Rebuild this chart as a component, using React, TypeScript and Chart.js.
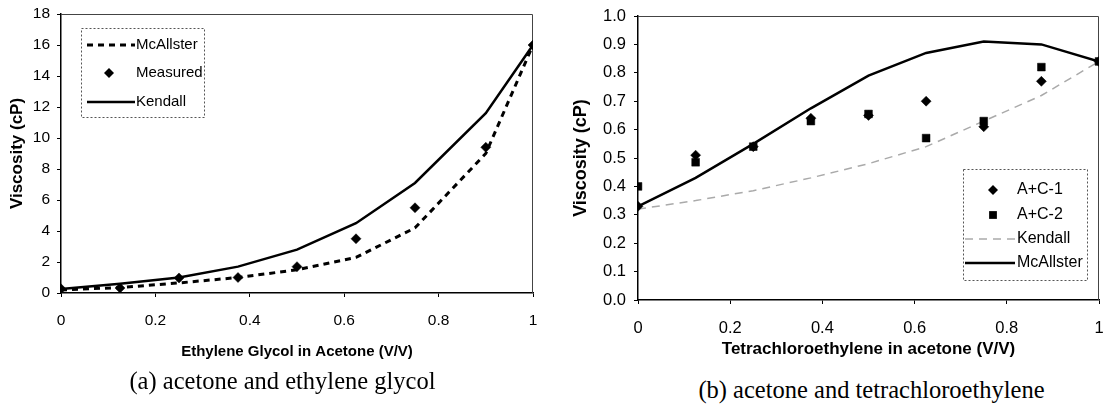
import React, { useEffect, useRef } from "react";
import { Chart, registerables } from "chart.js";

Chart.register(...registerables);

const FONT = "'Liberation Sans', Arial, sans-serif";

// ---- Chart (a): acetone and ethylene glycol ----
const xA = [0, 0.125, 0.25, 0.375, 0.5, 0.625, 0.75, 0.9, 1];
const mcallisterA = [0.2, 0.35, 0.65, 1.0, 1.5, 2.3, 4.2, 9.0, 16.0];
const measuredA = [0.27, 0.32, 0.97, 1.0, 1.7, 3.5, 5.5, 9.4, 16.0];
const kendallA = [0.25, 0.6, 1.0, 1.7, 2.8, 4.5, 7.1, 11.6, 16.0];
const xTickLabelsA = ["0", "0.2", "0.4", "0.6", "0.8", "1"];
const yTickLabelsA = ["0", "2", "4", "6", "8", "10", "12", "14", "16", "18"];

// ---- Chart (b): acetone and tetrachloroethylene ----
const xB = [0, 0.125, 0.25, 0.375, 0.5, 0.625, 0.75, 0.875, 1];
const ac1B = [0.33, 0.51, 0.54, 0.64, 0.65, 0.7, 0.61, 0.77, 0.84];
const ac2B = [0.4, 0.485, 0.54, 0.63, 0.655, 0.57, 0.63, 0.82, 0.84];
const kendallB = [0.32, 0.35, 0.385, 0.43, 0.48, 0.54, 0.63, 0.72, 0.84];
const mcallisterB = [0.33, 0.43, 0.55, 0.675, 0.79, 0.87, 0.91, 0.9, 0.84];
const xTickLabelsB = ["0", "0.2", "0.4", "0.6", "0.8", "1"];
const yTickLabelsB = ["0.0", "0.1", "0.2", "0.3", "0.4", "0.5", "0.6", "0.7", "0.8", "0.9", "1.0"];

const pts = (xs: number[], ys: number[]) => xs.map((x, i) => ({ x, y: ys[i] }));

type LegendCfg = {
  dx: number; dy: number; w: number; h: number;
  rows: number[]; sx0: number; sx1: number; mx: number; tx: number; fontSize: number;
  fromRight?: boolean;
};

function drawMarker(ctx: CanvasRenderingContext2D, style: string, x: number, y: number, r: number) {
  ctx.beginPath();
  if (style === "rectRot") {
    ctx.moveTo(x - r, y);
    ctx.lineTo(x, y - r);
    ctx.lineTo(x + r, y);
    ctx.lineTo(x, y + r);
    ctx.closePath();
  } else {
    const s = r * Math.SQRT1_2;
    ctx.rect(x - s, y - s, 2 * s, 2 * s);
  }
  ctx.fillStyle = "#000";
  ctx.fill();
}

function makeLegendPlugin(id: string, cfg: LegendCfg) {
  return {
    id,
    afterDraw(chart: any) {
      const { ctx, chartArea } = chart;
      const bx = cfg.fromRight ? chartArea.right - cfg.dx - cfg.w : chartArea.left + cfg.dx;
      const by = chartArea.top + cfg.dy;
      ctx.save();
      ctx.fillStyle = "#fff";
      ctx.fillRect(bx, by, cfg.w, cfg.h);
      ctx.setLineDash([2, 2]);
      ctx.strokeStyle = "#555";
      ctx.lineWidth = 1;
      ctx.strokeRect(bx + 0.5, by + 0.5, cfg.w, cfg.h);
      const order: number[] = chart.options.plugins[id + "Order"] || [];
      order.forEach((di: number, row: number) => {
        const ds = chart.data.datasets[di];
        const y = by + cfg.rows[row];
        if (ds.showLine === false) {
          drawMarker(ctx, ds.pointStyle, bx + cfg.mx, y, ds.pointRadius);
        } else {
          ctx.beginPath();
          ctx.setLineDash(ds.borderDash || []);
          ctx.strokeStyle = ds.borderColor;
          ctx.lineWidth = ds.borderWidth;
          ctx.moveTo(bx + cfg.sx0, y);
          ctx.lineTo(bx + cfg.sx1, y);
          ctx.stroke();
        }
        ctx.setLineDash([]);
        ctx.fillStyle = "#000";
        ctx.font = `${cfg.fontSize}px ${FONT}`;
        ctx.textBaseline = "middle";
        ctx.textAlign = "left";
        ctx.fillText(ds.label, bx + cfg.tx, y);
      });
      ctx.restore();
    },
  };
}

const frame = {
  id: "frame",
  beforeDatasetsDraw(chart: any) {
    const { ctx, chartArea } = chart;
    ctx.save();
    ctx.strokeStyle = "#444";
    ctx.lineWidth = 1;
    ctx.beginPath();
    ctx.moveTo(chartArea.left, chartArea.top + 0.5);
    ctx.lineTo(chartArea.right - 0.5, chartArea.top + 0.5);
    ctx.lineTo(chartArea.right - 0.5, chartArea.bottom);
    ctx.stroke();
    ctx.restore();
  },
};

function axis(opts: any) {
  const { min, max, step, labels, w, h, tickSize, tickPad, title, titleSize, titlePad, horizontal } = opts;
  return {
    type: "linear",
    min,
    max,
    afterFit: (s: any) => {
      if (horizontal) {
        s.height = h;
        s.paddingLeft = 0;
        s.paddingRight = 0;
      } else {
        s.width = w;
        s.paddingTop = 0;
        s.paddingBottom = 0;
      }
    },
    border: { display: true, color: "#000", width: 1.5 },
    grid: { display: true, drawOnChartArea: false, drawTicks: true, tickLength: 4, color: "#000" },
    ticks: {
      stepSize: step,
      padding: tickPad,
      color: "#000",
      font: { family: FONT, size: tickSize },
      maxRotation: 0,
      autoSkip: false,
      callback: (_v: any, i: number) => labels[i],
    },
    title: {
      display: true,
      text: title,
      color: "#000",
      font: { family: FONT, size: titleSize, weight: "bold" },
      padding: titlePad,
    },
  };
}

function ChartA() {
  const ref = useRef<HTMLCanvasElement>(null);
  useEffect(() => {
    const legend = makeLegendPlugin("legendA", {
      dx: 20, dy: 14, w: 123, h: 89, rows: [17, 45, 74], sx0: 6, sx1: 54, mx: 28, tx: 55, fontSize: 15,
    });
    const chart = new Chart(ref.current!, {
      type: "scatter",
      data: {
        datasets: [
          { label: "Measured", data: pts(xA, measuredA), showLine: false, pointStyle: "rectRot", pointRadius: 5, pointBackgroundColor: "#000", pointBorderColor: "#000", pointBorderWidth: 0.5 } as any,
          { label: "McAllster", data: pts(xA, mcallisterA), showLine: true, borderColor: "#000", borderWidth: 3, borderDash: [6, 5], pointRadius: 0, tension: 0 },
          { label: "Kendall", data: pts(xA, kendallA), showLine: true, borderColor: "#000", borderWidth: 2.5, pointRadius: 0, tension: 0 },
        ],
      },
      options: {
        animation: false,
        responsive: false,
        layout: { padding: { top: 14, right: 17, left: 0, bottom: 0 } },
        plugins: { legend: { display: false }, tooltip: { enabled: false }, legendAOrder: [1, 0, 2] } as any,
        scales: {
          x: axis({ min: 0, max: 1, step: 0.2, labels: xTickLabelsA, h: 77, tickSize: 15.5, tickPad: 14, title: "Ethylene Glycol in Acetone (V/V)", titleSize: 15, titlePad: { top: 0, bottom: 9 }, horizontal: true }),
          y: axis({ min: 0, max: 18, step: 2, labels: yTickLabelsA, w: 61, tickSize: 15.5, tickPad: 7, title: "Viscosity (cP)", titleSize: 17, titlePad: { top: 7, bottom: 0 } }),
        } as any,
      },
      plugins: [frame, legend],
    });
    return () => chart.destroy();
  }, []);
  return <canvas ref={ref} width={550} height={370} style={{ position: "absolute", left: 0, top: 0 }} />;
}

function ChartB() {
  const ref = useRef<HTMLCanvasElement>(null);
  useEffect(() => {
    const legend = makeLegendPlugin("legendB", {
      dx: 12, dy: 153, w: 124, h: 111, rows: [21, 46, 70, 94], sx0: 2, sx1: 52, mx: 30, tx: 54, fontSize: 16, fromRight: true,
    });
    const chart = new Chart(ref.current!, {
      type: "scatter",
      data: {
        datasets: [
          { label: "A+C-1", data: pts(xB, ac1B), showLine: false, pointStyle: "rectRot", pointRadius: 5, pointBackgroundColor: "#000", pointBorderColor: "#000", pointBorderWidth: 0.5 } as any,
          { label: "A+C-2", data: pts(xB, ac2B), showLine: false, pointStyle: "rect", pointRadius: 5.5, pointBackgroundColor: "#000", pointBorderColor: "#000", pointBorderWidth: 0.5 } as any,
          { label: "Kendall", data: pts(xB, kendallB), showLine: true, borderColor: "#aaa", borderWidth: 1.5, borderDash: [8, 6], pointRadius: 0, tension: 0 },
          { label: "McAllster", data: pts(xB, mcallisterB), showLine: true, borderColor: "#000", borderWidth: 2.5, pointRadius: 0, tension: 0 },
        ],
      },
      options: {
        animation: false,
        responsive: false,
        layout: { padding: { top: 16, right: 1, left: 0, bottom: 0 } },
        plugins: { legend: { display: false }, tooltip: { enabled: false }, legendBOrder: [0, 1, 2, 3] } as any,
        scales: {
          x: axis({ min: 0, max: 1, step: 0.2, labels: xTickLabelsB, h: 70, tickSize: 16.5, tickPad: 15, title: "Tetrachloroethylene in acetone (V/V)", titleSize: 17, titlePad: { top: 0, bottom: 10 }, horizontal: true }),
          y: axis({ min: 0, max: 1, step: 0.1, labels: yTickLabelsB, w: 88, tickSize: 16.5, tickPad: 8, title: "Viscosity (cP)", titleSize: 18, titlePad: { top: 20, bottom: 0 } }),
        } as any,
      },
      plugins: [frame, legend],
    });
    return () => chart.destroy();
  }, []);
  return <canvas ref={ref} width={555} height={370} style={{ position: "absolute", left: 550, top: 0 }} />;
}

const captionStyle: React.CSSProperties = {
  position: "absolute",
  fontFamily: "'Liberation Serif', 'Times New Roman', serif",
  fontSize: 24.5,
  lineHeight: "24px",
  textAlign: "center",
  color: "#000",
  whiteSpace: "nowrap",
};

export default function App() {
  return (
    <div style={{ position: "absolute", left: 0, top: 0, width: 1105, height: 405, background: "#fff", overflow: "hidden" }}>
      <ChartA />
      <ChartB />
      <div style={{ ...captionStyle, left: 0, width: 565, top: 369 }}>(a) acetone and ethylene glycol</div>
      <div style={{ ...captionStyle, left: 571.5, width: 600, top: 378 }}>(b) acetone and tetrachloroethylene</div>
    </div>
  );
}
